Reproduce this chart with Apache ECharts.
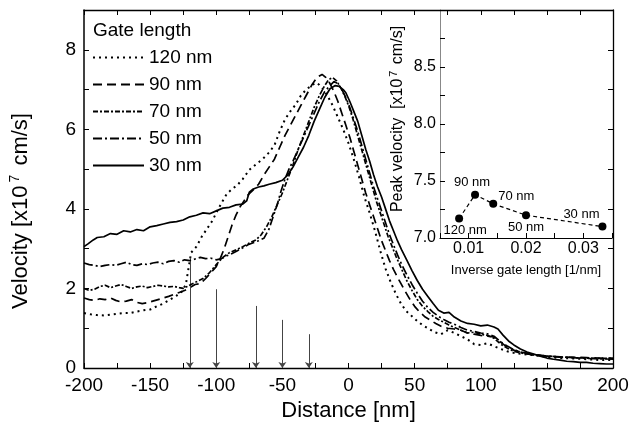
<!DOCTYPE html>
<html>
<head>
<meta charset="utf-8">
<script src="https://cdn.jsdelivr.net/npm/echarts@6.0.0/dist/echarts.min.js"></script>
<style>
html, body { margin: 0; padding: 0; background: #fff; }
#chart { width: 632px; height: 432px; }
</style>
</head>
<body>
<div id="chart"></div>
<script>
// velocity profiles [distance nm, velocity x1e7 cm/s]
var v120 = [[-200,1.38],[-195,1.35],[-190,1.33],[-185,1.32],[-180,1.34],[-175,1.36],[-170,1.38],[-165,1.38],[-160,1.42],[-155,1.45],[-150,1.47],[-145,1.55],[-140,1.62],[-135,1.72],[-130,1.82],[-126,1.92],[-123,2.1],[-121,2.5],[-119,2.9],[-115,3.05],[-111,3.3],[-107,3.5],[-103,3.7],[-100,3.9],[-96,4.15],[-92,4.38],[-88,4.5],[-84,4.6],[-80,4.75],[-75,4.98],[-70,5.12],[-65,5.25],[-60,5.42],[-56,5.6],[-52,5.95],[-48,6.25],[-44,6.45],[-40,6.62],[-36,6.85],[-32,7.0],[-28,7.1],[-25,7.17],[-22,7.12],[-19,7.0],[-16,6.85],[-12,6.6],[-8,6.3],[-4,6.0],[0,5.65],[4,5.25],[8,4.8],[12,4.3],[16,3.9],[20,3.45],[24,2.95],[28,2.5],[32,2.15],[36,1.85],[40,1.6],[44,1.42],[48,1.3],[52,1.18],[56,1.08],[60,1.0],[65,0.9],[70,0.85],[75,0.95],[80,0.88],[85,0.8],[90,0.72],[95,0.6],[100,0.58],[105,0.62],[110,0.55],[115,0.48],[120,0.42],[125,0.38],[130,0.36],[140,0.32],[150,0.28],[160,0.25],[170,0.24],[180,0.22],[190,0.2],[200,0.2]];

var v90 = [[-200,1.76],[-196,1.72],[-192,1.7],[-188,1.74],[-184,1.72],[-180,1.76],[-176,1.7],[-172,1.66],[-168,1.68],[-164,1.72],[-160,1.65],[-156,1.62],[-152,1.64],[-148,1.68],[-144,1.72],[-140,1.76],[-136,1.8],[-132,1.85],[-128,1.9],[-124,1.95],[-120,2.02],[-116,2.1],[-112,2.12],[-108,2.25],[-104,2.4],[-100,2.55],[-97,2.75],[-94,3.0],[-91,3.3],[-88,3.6],[-85,3.85],[-82,4.05],[-79,4.2],[-76,4.35],[-72,4.48],[-68,4.62],[-64,4.85],[-60,5.05],[-56,5.25],[-52,5.55],[-48,5.85],[-44,6.1],[-40,6.35],[-36,6.6],[-32,6.85],[-28,7.1],[-24,7.3],[-20,7.38],[-17,7.3],[-14,7.15],[-11,6.95],[-8,6.7],[-5,6.4],[-2,6.1],[1,5.8],[4,5.45],[7,5.1],[10,4.75],[13,4.4],[16,4.1],[19,3.8],[22,3.5],[25,3.2],[28,2.95],[31,2.7],[34,2.48],[38,2.22],[42,1.98],[46,1.75],[50,1.55],[54,1.4],[58,1.28],[62,1.2],[66,1.12],[70,1.05],[75,1.0],[80,0.98],[85,0.95],[90,0.88],[95,0.85],[100,0.82],[105,0.8],[110,0.78],[115,0.65],[120,0.52],[125,0.45],[130,0.4],[135,0.36],[140,0.33],[150,0.3],[160,0.28],[170,0.27],[180,0.26],[190,0.25],[200,0.25]];

var v70 = [[-200,2.0],[-196,1.95],[-192,1.98],[-188,2.05],[-184,2.08],[-180,2.02],[-176,2.06],[-172,2.1],[-168,2.05],[-164,2.0],[-160,2.04],[-156,2.06],[-152,2.02],[-148,2.05],[-144,2.08],[-140,2.06],[-136,2.04],[-132,2.05],[-128,2.02],[-125,2.0],[-122,2.05],[-118,2.12],[-114,2.18],[-110,2.25],[-105,2.4],[-100,2.6],[-95,2.78],[-90,2.9],[-85,2.97],[-80,3.05],[-75,3.14],[-70,3.22],[-66,3.35],[-62,3.55],[-58,3.8],[-54,4.1],[-50,4.4],[-46,4.75],[-42,5.1],[-38,5.5],[-34,5.85],[-30,6.2],[-26,6.55],[-22,6.85],[-18,7.1],[-15,7.25],[-12,7.3],[-9,7.22],[-6,7.05],[-3,6.85],[0,6.6],[3,6.3],[6,5.95],[9,5.6],[12,5.25],[15,4.9],[18,4.55],[21,4.2],[24,3.9],[27,3.6],[30,3.3],[33,3.05],[36,2.8],[40,2.5],[44,2.2],[48,1.95],[52,1.72],[56,1.55],[60,1.42],[64,1.3],[68,1.22],[72,1.15],[76,1.08],[80,1.02],[85,0.95],[90,0.88],[95,0.9],[100,0.85],[105,0.82],[110,0.75],[115,0.6],[120,0.5],[125,0.42],[130,0.38],[140,0.33],[150,0.3],[160,0.28],[170,0.26],[180,0.25],[190,0.24],[200,0.24]];

var v50 = [[-200,2.64],[-196,2.6],[-192,2.58],[-188,2.55],[-184,2.58],[-180,2.6],[-176,2.58],[-172,2.62],[-168,2.66],[-164,2.6],[-160,2.58],[-156,2.62],[-152,2.6],[-148,2.64],[-144,2.66],[-140,2.62],[-136,2.68],[-132,2.7],[-128,2.66],[-124,2.72],[-120,2.7],[-116,2.74],[-112,2.78],[-108,2.75],[-104,2.76],[-100,2.72],[-96,2.75],[-92,2.82],[-88,2.88],[-84,2.95],[-80,3.02],[-76,3.1],[-72,3.15],[-68,3.2],[-64,3.26],[-60,3.5],[-57,3.8],[-54,4.1],[-51,4.45],[-48,4.75],[-45,5.0],[-42,5.2],[-38,5.5],[-34,5.8],[-30,6.1],[-26,6.4],[-22,6.7],[-18,6.95],[-14,7.1],[-11,7.2],[-8,7.15],[-5,7.0],[-2,6.8],[1,6.55],[4,6.25],[7,5.95],[10,5.6],[13,5.25],[16,4.9],[19,4.55],[22,4.25],[25,3.95],[28,3.65],[31,3.35],[34,3.1],[37,2.85],[40,2.62],[44,2.35],[48,2.1],[52,1.88],[56,1.68],[60,1.52],[64,1.4],[68,1.3],[72,1.22],[76,1.15],[80,1.1],[85,1.02],[90,0.95],[95,0.92],[100,0.88],[105,0.86],[110,0.8],[115,0.66],[120,0.55],[125,0.46],[130,0.4],[140,0.34],[150,0.3],[160,0.27],[170,0.26],[180,0.24],[190,0.23],[200,0.22]];

var v30 = [[-200,3.05],[-197,3.12],[-193,3.22],[-190,3.28],[-185,3.3],[-180,3.38],[-175,3.36],[-170,3.45],[-165,3.42],[-160,3.48],[-155,3.45],[-150,3.55],[-145,3.58],[-140,3.62],[-135,3.66],[-130,3.68],[-125,3.72],[-120,3.8],[-115,3.84],[-110,3.9],[-105,3.88],[-100,3.95],[-95,4.02],[-90,4.04],[-85,4.1],[-80,4.12],[-77,4.2],[-75,4.42],[-72,4.5],[-68,4.55],[-64,4.58],[-60,4.62],[-55,4.66],[-50,4.72],[-46,4.85],[-42,5.05],[-38,5.3],[-34,5.55],[-30,5.85],[-26,6.2],[-22,6.5],[-18,6.8],[-14,7.02],[-10,7.1],[-7,7.08],[-4,7.0],[-2,6.92],[1,6.7],[4,6.45],[7,6.2],[10,5.85],[13,5.5],[16,5.2],[19,4.85],[22,4.55],[25,4.3],[28,4.0],[31,3.7],[34,3.45],[37,3.2],[40,2.98],[44,2.72],[48,2.45],[52,2.2],[56,1.98],[60,1.8],[64,1.62],[68,1.45],[72,1.38],[76,1.4],[80,1.28],[85,1.18],[90,1.12],[95,1.1],[100,1.06],[105,1.08],[110,1.03],[113,0.98],[117,0.82],[121,0.68],[125,0.58],[130,0.48],[135,0.4],[140,0.35],[145,0.3],[150,0.25],[155,0.22],[160,0.2],[165,0.17],[170,0.16],[175,0.14],[180,0.14],[185,0.12],[190,0.11],[195,0.1],[200,0.1]];

var seriesNames = ['120 nm', '90 nm', '70 nm', '50 nm', '30 nm'];

// gate edge arrows: position (nm) and top (velocity)
var arrowX = [-120, -100, -70, -50, -30];
var arrowTop = [2.77, 1.98, 1.56, 1.21, 0.85];

// inset: gate length and peak velocity
var gateLen = [120, 90, 70, 50, 30];
var peakVel = [7.17, 7.38, 7.30, 7.20, 7.10];
var peakLabelOffset = [[6, 12], [-3, -12], [23, -7], [0, 12], [-21, -12]];

var FONT = 'Liberation Sans, Arial, Helvetica, sans-serif';

var chart = echarts.init(document.getElementById('chart'));

var dashes = [[2, 4], [9, 5], [5, 2, 2, 2], [9, 3, 2, 3], 'solid'];
var curves = [v120, v90, v70, v50, v30];

var series = curves.map(function (d, i) {
  return {
    name: seriesNames[i],
    type: 'line',
    xAxisIndex: 0,
    yAxisIndex: 0,
    data: d,
    symbol: 'none',
    lineStyle: { color: '#000', width: i === 0 ? 2 : 1.7, type: dashes[i] },
    itemStyle: { color: '#000' },
    z: 3 + i
  };
});

// arrows marking gate edges
series.push({
  type: 'line',
  xAxisIndex: 0,
  yAxisIndex: 0,
  data: [],
  silent: true,
  markLine: {
    silent: true,
    symbol: ['none', 'arrow'],
    symbolSize: 6,
    label: { show: false },
    lineStyle: { color: '#444', width: 1, type: 'solid' },
    data: arrowX.map(function (x, i) {
      return [{ coord: [x, arrowTop[i]] }, { coord: [x, 0] }];
    })
  }
});

// inset points
series.push({
  type: 'line',
  xAxisIndex: 2,
  yAxisIndex: 2,
  symbol: 'circle',
  symbolSize: 8,
  itemStyle: { color: '#000' },
  lineStyle: { color: '#000', width: 1.2, type: [4, 3] },
  data: gateLen.map(function (L, i) {
    return {
      value: [1 / L, peakVel[i]],
      label: {
        show: true,
        position: 'inside',
        offset: peakLabelOffset[i],
        formatter: L + ' nm',
        color: '#000',
        fontSize: 13,
        fontFamily: FONT
      }
    };
  })
});

var tick = { show: true, inside: true, length: 5, lineStyle: { color: '#000', width: 1 } };
var noZero = { onZero: false, lineStyle: { color: '#000', width: 1.3 } };

var option = {
  animation: false,
  backgroundColor: '#fff',
  title: {
    text: 'Gate length',
    left: 93,
    top: 21,
    padding: 0,
    textStyle: { fontSize: 19, fontWeight: 'normal', color: '#000', fontFamily: FONT }
  },
  legend: {
    data: seriesNames,
    orient: 'vertical',
    left: 92,
    top: 48,
    padding: 0,
    itemWidth: 51,
    itemHeight: 18,
    itemGap: 8,
    itemStyle: { opacity: 0 },
    textStyle: { fontSize: 19, color: '#000', fontFamily: FONT },
    selectedMode: false
  },
  grid: [
    { left: 80, right: 19, top: 10, bottom: 64 },
    { left: 440, right: 20, top: 10, bottom: 194 }
  ],
  xAxis: [
    {
      gridIndex: 0, type: 'value', min: -200, max: 200, interval: 50,
      axisLine: noZero,
      axisTick: tick,
      minorTick: { show: true, splitNumber: 2, length: 5, lineStyle: { color: '#000' } },
      splitLine: { show: false },
      axisLabel: { color: '#000', fontSize: 19, margin: 8, fontFamily: FONT },
      name: 'Distance [nm]',
      nameLocation: 'middle',
      nameGap: 31,
      nameTextStyle: { color: '#000', fontSize: 22, fontFamily: FONT }
    },
    {
      gridIndex: 0, type: 'value', position: 'top', min: -200, max: 200, interval: 50,
      axisLine: noZero,
      axisTick: tick,
      minorTick: { show: true, splitNumber: 2, length: 5, lineStyle: { color: '#000' } },
      splitLine: { show: false },
      axisLabel: { show: false }
    },
    {
      gridIndex: 1, type: 'value', min: 0.005, max: 0.035, interval: 0.005,
      axisLine: { onZero: false, lineStyle: { color: '#000', width: 1.2 } },
      axisTick: tick,
      splitLine: { show: false },
      axisLabel: {
        color: '#000', fontSize: 16, margin: 3, fontFamily: FONT,
        formatter: function (v) {
          var k = Math.round(v * 1000);
          return (k % 10 === 0 && k > 5 && k < 35) ? (k / 1000).toFixed(2) : '';
        }
      },
      name: 'Inverse gate length [1/nm]',
      nameLocation: 'middle',
      nameGap: 26,
      nameTextStyle: { color: '#000', fontSize: 13, fontFamily: FONT }
    }
  ],
  yAxis: [
    {
      gridIndex: 0, type: 'value', min: 0, max: 9, interval: 1,
      axisLine: { onZero: false, lineStyle: { color: '#000', width: 1.5 } },
      axisTick: tick,
      splitLine: { show: false },
      axisLabel: {
        color: '#000', fontSize: 19, margin: 8, fontFamily: FONT,
        formatter: function (v) { return (v % 2 === 0) ? String(v) : ''; }
      },
      name: 'Velocity [x10{s|7} cm/s]',
      nameLocation: 'middle',
      nameGap: 50,
      nameRotate: 90,
      nameTextStyle: {
        color: '#000', fontSize: 22, fontFamily: FONT, padding: [0, 44, 0, 0],
        rich: { s: { fontSize: 14, fontFamily: FONT, color: '#000', padding: [0, 3, 12, 3] } }
      }
    },
    {
      gridIndex: 0, type: 'value', position: 'right', min: 0, max: 9, interval: 1,
      axisLine: noZero,
      axisTick: tick,
      splitLine: { show: false },
      axisLabel: { show: false }
    },
    {
      gridIndex: 1, type: 'value', min: 7, max: 9, interval: 0.25,
      axisLine: { onZero: false, lineStyle: { color: '#888', width: 1 } },
      axisTick: tick,
      splitLine: { show: false },
      axisLabel: {
        color: '#000', fontSize: 16, margin: 4, fontFamily: FONT,
        formatter: function (v) {
          var k = Math.round(v * 100);
          return (k % 50 === 0 && k < 900) ? v.toFixed(1) : '';
        }
      },
      name: 'Peak velocity  [x10{s|7} cm/s]',
      nameLocation: 'middle',
      nameGap: 32,
      nameRotate: 90,
      nameTextStyle: {
        color: '#000', fontSize: 16, fontFamily: FONT, padding: [0, 0, 0, 10],
        rich: { s: { fontSize: 11, fontFamily: FONT, color: '#000', padding: [0, 2, 9, 2] } }
      }
    }
  ],
  series: series
};

chart.setOption(option);
</script>
</body>
</html>
